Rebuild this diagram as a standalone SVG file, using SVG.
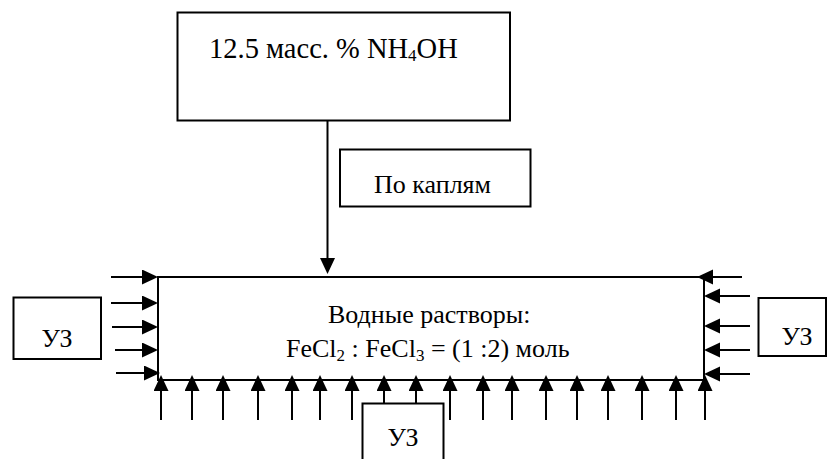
<svg xmlns="http://www.w3.org/2000/svg" width="832" height="459" viewBox="0 0 832 459">
  <style>
    .box { fill: #ffffff; stroke: #000000; stroke-width: 2; }
    .lbl { font-family: 'Liberation Serif', 'DejaVu Serif', serif; font-size: 26px; fill: #000000; }
    .big { font-size: 28.5px; }
    .sub { font-size: 17px; }
    .wire { stroke: #000000; stroke-width: 2; fill: none; marker-end: url(#head); }
  </style>
  <defs>
    <marker id="head" markerUnits="userSpaceOnUse" markerWidth="18" markerHeight="16" refX="13" refY="7.5" orient="auto">
      <path d="M0,0 L16,7.5 L0,15 Z" fill="#000000"/>
    </marker>
  </defs>

  <rect width="832" height="459" fill="#ffffff"/>

  <!-- reagent feed -->
  <g id="reagent">
    <rect class="box" x="177.5" y="12.5" width="332.5" height="108"/>
    <text class="lbl big" x="209" y="58">12.5 масс. % NH<tspan class="sub" font-size="19" dy="3">4</tspan><tspan dy="-3">OH</tspan></text>
  </g>

  <!-- dosing note -->
  <g id="dropwise">
    <rect class="box" x="340" y="149.5" width="190.5" height="57"/>
    <text class="lbl" x="374" y="193">По каплям</text>
  </g>

  <!-- reaction vessel -->
  <g id="vessel">
    <rect class="box" x="158" y="277" width="546" height="103"/>
    <text class="lbl" x="328" y="323">Водные растворы:</text>
    <text class="lbl" x="286" y="357">FeCl<tspan class="sub" dy="4">2</tspan><tspan dy="-4"> : FeCl</tspan><tspan class="sub" dy="4">3</tspan><tspan dy="-4"> = (1 :2) моль</tspan></text>
  </g>

  <!-- ultrasound sources -->
  <g id="us-left">
    <rect class="box" x="13.5" y="297.5" width="87.5" height="61.5"/>
    <text class="lbl" x="57" y="347" text-anchor="middle">УЗ</text>
  </g>
  <g id="us-right">
    <rect class="box" x="758.5" y="298" width="67.5" height="58"/>
    <text class="lbl" x="797" y="345" text-anchor="middle">УЗ</text>
  </g>
  <g id="us-bottom">
    <rect class="box" x="362.5" y="403.5" width="81" height="62"/>
    <text class="lbl" x="403" y="446" text-anchor="middle">УЗ</text>
  </g>

  <g id="connectors">
    <!-- feed into vessel -->
    <line class="wire" x1="327.5" y1="121" x2="327.5" y2="271"/>

    <!-- left side -->
    <line class="wire" x1="111" y1="277" x2="155" y2="277"/>
    <line class="wire" x1="111" y1="303" x2="155" y2="303"/>
    <line class="wire" x1="112" y1="327" x2="155" y2="327"/>
    <line class="wire" x1="115" y1="350" x2="155" y2="350"/>
    <line class="wire" x1="116" y1="373" x2="157" y2="373"/>

    <!-- right side -->
    <line class="wire" x1="742" y1="277" x2="700" y2="277"/>
    <line class="wire" x1="750" y1="296" x2="707" y2="296"/>
    <line class="wire" x1="750" y1="326" x2="707" y2="326"/>
    <line class="wire" x1="750" y1="350" x2="707" y2="350"/>
    <line class="wire" x1="750" y1="374" x2="707" y2="374"/>

    <!-- bottom side -->
    <line class="wire" x1="161" y1="420" x2="161" y2="378"/>
    <line class="wire" x1="192" y1="420" x2="192" y2="378"/>
    <line class="wire" x1="223" y1="420" x2="223" y2="378"/>
    <line class="wire" x1="258" y1="420" x2="258" y2="378"/>
    <line class="wire" x1="292" y1="420" x2="292" y2="378"/>
    <line class="wire" x1="320" y1="420" x2="320" y2="378"/>
    <line class="wire" x1="352" y1="420" x2="352" y2="378"/>
    <line class="wire" x1="384" y1="403" x2="384" y2="378"/>
    <line class="wire" x1="416" y1="403" x2="416" y2="378"/>
    <line class="wire" x1="450" y1="420" x2="450" y2="378"/>
    <line class="wire" x1="483" y1="420" x2="483" y2="378"/>
    <line class="wire" x1="512" y1="420" x2="512" y2="378"/>
    <line class="wire" x1="546" y1="420" x2="546" y2="378"/>
    <line class="wire" x1="577" y1="420" x2="577" y2="378"/>
    <line class="wire" x1="608" y1="420" x2="608" y2="378"/>
    <line class="wire" x1="642" y1="420" x2="642" y2="378"/>
    <line class="wire" x1="676" y1="420" x2="676" y2="378"/>
    <line class="wire" x1="705" y1="420" x2="705" y2="378"/>
  </g>
</svg>
